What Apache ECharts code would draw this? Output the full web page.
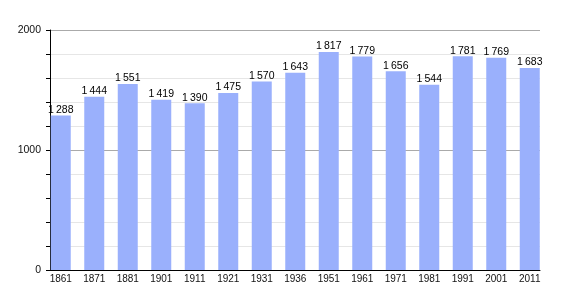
<!DOCTYPE html>
<html><head><meta charset="utf-8">
<script src="https://cdn.jsdelivr.net/npm/echarts@6/dist/echarts.min.js"></script>
<style>html,body{margin:0;padding:0;background:#fff}#c{width:570px;height:300px}</style>
</head><body><div id="c"></div>
<script>
var categories = ['1861','1871','1881','1901','1911','1921','1931','1936','1951','1961','1971','1981','1991','2001','2011'];
var population = [1288,1444,1551,1419,1390,1475,1570,1643,1817,1779,1656,1544,1781,1769,1683];
var yTickLabels = ['0','1000','2000'];

var chart = echarts.init(document.getElementById('c'), null, {renderer:'canvas'});
function fmt(v){ var s=String(v); return s.length>3 ? s.slice(0,-3)+'\u2009'+s.slice(-3) : s; }
chart.setOption({
  animation:false,
  backgroundColor:'#fff',
  grid:[
    {left:50, right:30, top:30, bottom:30},
    {left:44, right:23.5, top:30, bottom:30}
  ],
  xAxis:[
    {gridIndex:0, type:'category', data:categories, axisLine:{lineStyle:{color:'#000',width:1}}, axisTick:{show:false}, axisLabel:{show:false}},
    {gridIndex:1, type:'category', data:categories, axisLine:{show:false}, axisTick:{show:false},
     axisLabel:{color:'#111', fontSize:10, fontFamily:'Liberation Sans, Arial, sans-serif', margin:4}}
  ],
  yAxis:[
    {gridIndex:0, type:'value', min:0, max:2000, interval:200,
     axisLine:{show:true, lineStyle:{color:'#000'}},
     axisTick:{show:true, length:4, lineStyle:{color:'#000'}},
     axisLabel:{fontSize:10.5, color:'#111', fontFamily:'Liberation Sans, Arial, sans-serif', margin:9,
       formatter:function(v){ return yTickLabels.indexOf(String(v))>=0 ? String(v) : ''; }},
     splitLine:{show:true, lineStyle:{color:['#aaaaaa','#e6e6e6','#e6e6e6','#e6e6e6','#e6e6e6'], width:1}}},
    {gridIndex:1, type:'value', min:0, max:2000, show:false}
  ],
  series:[{
    type:'bar', xAxisIndex:1, yAxisIndex:1, data:population, barWidth:20,
    itemStyle:{color:'#9ab0fc'},
    label:{show:true, position:'top', distance:0, color:'#000', fontSize:10.5,
      fontFamily:'Liberation Sans, Arial, sans-serif', formatter:function(p){return fmt(p.value);}}
  }]
});
</script></body></html>
